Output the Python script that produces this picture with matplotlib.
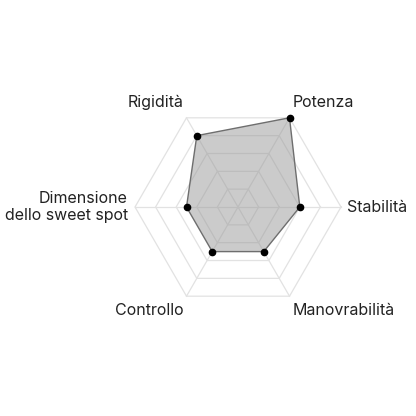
import numpy as np
import matplotlib
matplotlib.use("Agg")
import matplotlib.pyplot as plt

categories = ["Stabilità", "Potenza", "Rigidità", "Dimensione\ndello sweet spot", "Controllo", "Manovrabilità"]
values = [6, 10, 8, 5, 5, 5]
max_value = 10
rings = [2, 4, 6, 8, 10]

plt.rcParams['font.family'] = ['Inter', 'DejaVu Sans']

fig = plt.figure(figsize=(4.16, 4.16), dpi=100)
R = 103 / 416
cx, cy = 238 / 416, 1 - 207 / 416
ax = fig.add_axes([cx - R, cy - R, 2 * R, 2 * R], projection='polar')
ax.set_ylim(0, max_value)
ax.set_axis_off()

n = len(categories)
angles = np.arange(n) * 2 * np.pi / n
closed = np.append(angles, angles[0])

grid_col = '#e2e2e2'
for r in rings:
    ax.plot(closed, [r] * (n + 1), color=grid_col, lw=0.9, zorder=1, clip_on=False)
for a in angles:
    ax.plot([a, a], [0, max_value], color=grid_col, lw=0.9, zorder=1, clip_on=False)

vals = np.append(values, values[0])
ax.fill(closed, vals, color='#999999', alpha=0.5, zorder=2, lw=0, clip_on=False)
ax.plot(closed, vals, color='#6e6e6e', lw=1.0, zorder=3, clip_on=False)
ax.plot(angles, values, 'o', color='black', ms=4.5, zorder=4, clip_on=False)

specs = {
    0: ('left', 'center', (6, 0)),
    1: ('left', 'bottom', (3, 8)),
    2: ('right', 'bottom', (-3, 8)),
    3: ('right', 'center', (-7, 0)),
    4: ('right', 'top', (-3, -7)),
    5: ('left', 'top', (3, -7)),
}
for i, lab in enumerate(categories):
    ha, va, off = specs[i]
    ax.annotate(lab, xy=(angles[i], max_value), xytext=off, textcoords='offset pixels',
                ha=ha, va=va, fontsize=11.5, color='#222222', multialignment='right',
                annotation_clip=False)

fig.savefig('out.png', dpi=100)
